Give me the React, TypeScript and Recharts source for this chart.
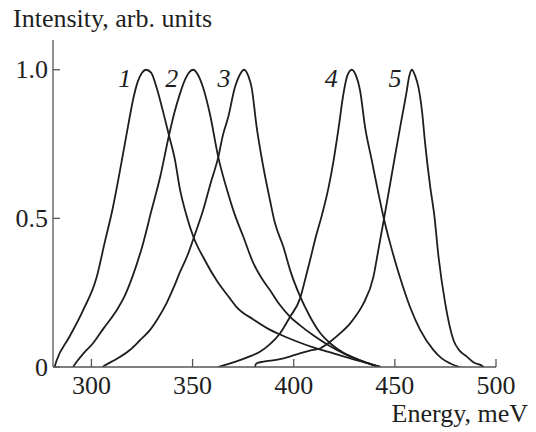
import React from "react";
import { LineChart, Line, XAxis, YAxis, ReferenceDot } from "recharts";

// Photoluminescence spectra, normalised intensity vs photon energy (meV)
const curve1 = [
  [281.8, 0], [282.7, 0.02], [289, 0.1], [295.8, 0.19], [302.5, 0.3], [306.6, 0.42],
  [310.4, 0.53], [314.9, 0.69], [318.1, 0.81], [320.6, 0.9], [322.9, 0.96], [325, 0.99],
  [327, 1.0], [329.5, 0.99], [332.2, 0.94], [335, 0.87], [338.3, 0.78], [341.2, 0.7],
  [343.7, 0.6], [347, 0.51], [350.3, 0.44], [356, 0.36], [362, 0.29], [368, 0.235],
  [372, 0.2], [380, 0.16], [387, 0.13], [393, 0.11], [400, 0.09], [410, 0.065],
  [420, 0.045], [430, 0.025], [437, 0.012], [443, 0],
];

const curve2 = [
  [290.9, 0], [293, 0.02], [296, 0.045], [300.8, 0.08], [306, 0.13], [312.4, 0.19],
  [316.5, 0.24], [320.6, 0.31], [325.5, 0.415], [329.7, 0.527], [334, 0.64], [338.3, 0.778],
  [341, 0.855], [343.7, 0.918], [346.5, 0.97], [348.5, 0.993], [350.3, 1.0], [352.5, 0.985],
  [355.2, 0.94], [358.6, 0.85], [362.7, 0.706], [367.6, 0.583], [371, 0.51], [375, 0.44],
  [380, 0.35], [384, 0.3], [388.3, 0.258], [393, 0.21], [398.2, 0.169], [403, 0.141],
  [410, 0.105], [418, 0.07], [425, 0.045], [432, 0.025], [438, 0.01], [443, 0],
];

const curve3 = [
  [305.5, 0], [307, 0.007], [312, 0.025], [319, 0.057], [324, 0.09], [328.9, 0.124],
  [333, 0.165], [337.1, 0.214], [340.5, 0.265], [343.7, 0.318], [347.5, 0.376], [351.1, 0.445],
  [355.2, 0.527], [359, 0.62], [362.7, 0.706], [365, 0.78], [367.6, 0.84], [370.9, 0.94],
  [373.5, 0.985], [375.5, 1.0], [377.5, 0.98], [379.2, 0.94], [381.7, 0.806], [385, 0.672],
  [388.3, 0.56], [390.5, 0.49], [394.9, 0.404], [398.5, 0.32], [403, 0.24], [408, 0.17],
  [413, 0.115], [418, 0.08], [424, 0.05], [430, 0.03], [436, 0.014], [442.7, 0],
];

const curve4 = [
  [362.6, 0], [366, 0.007], [372, 0.02], [378, 0.035], [383.3, 0.051], [388, 0.075],
  [393.2, 0.113], [398.2, 0.169], [403.1, 0.23], [405.5, 0.29], [408.1, 0.36], [411, 0.44],
  [413.9, 0.51], [417.1, 0.6], [419.6, 0.69], [422.1, 0.8], [424.6, 0.92], [426.5, 0.98],
  [428.7, 1.0], [430.8, 0.98], [432.8, 0.93], [435.3, 0.806], [438.6, 0.695], [441.9, 0.583],
  [444.4, 0.504], [447.7, 0.415], [452.6, 0.3], [457.6, 0.2], [462.5, 0.125], [469.1, 0.057],
  [473, 0.03], [477.4, 0.012], [482, 0],
];

const curve5 = [
  [380.8, 0], [381.5, 0.012], [385, 0.018], [392, 0.025], [398, 0.035], [403, 0.046],
  [408, 0.055], [413.2, 0.063], [416, 0.075], [418, 0.085], [422.9, 0.113], [427.9, 0.147],
  [431, 0.175], [434.5, 0.214], [439.4, 0.303], [442, 0.4], [444.4, 0.49], [447, 0.59],
  [449.3, 0.68], [452.6, 0.806], [455.9, 0.93], [457, 0.975], [458.4, 1.0], [460, 0.98],
  [461.7, 0.94], [463.4, 0.862], [465, 0.75], [467.5, 0.605], [469.5, 0.51], [471.6, 0.37],
  [474.9, 0.214], [479, 0.09], [482, 0.055], [485.6, 0.035], [489, 0.015], [492.2, 0.007],
  [494, 0],
];

const spectra = [curve1, curve2, curve3, curve4, curve5];
const curveNames = ["1", "2", "3", "4", "5"];
// energy at which each curve number is written, just left of its peak
const nameEnergies = [316.5, 339.7, 365.5, 418.5, 450.1];
const nameLevel = 0.973;

const xTicks = [300, 350, 400, 450, 500];
const yTicks = [0, 0.5, 1.0];
const yTickLabels = ["0", "0.5", "1.0"];

const FONT = "Liberation Serif";
const INK = "#1e1e1e";
const AXIS = "#555";
const TICK_FONT = 26;
const TITLE_FONT = 26;

const toPoints = (rows: number[][]) => rows.map(([x, y]) => ({ x, y }));

const Y_MARGIN = 5;
const textStyle = { fontFamily: FONT };

function YTick(props: any) {
  const { x, y, index } = props;
  const axisX = x + Y_MARGIN;
  return (
    <g>
      <line x1={axisX} y1={y} x2={axisX + 7} y2={y} stroke={AXIS} strokeWidth={1.3} />
      <text x={x} y={y} textAnchor="end" dominantBaseline="central" style={textStyle} fontSize={TICK_FONT} fill={INK}>
        {yTickLabels[index]}
      </text>
    </g>
  );
}

function XTick(props: any) {
  const { x, y, payload } = props;
  return (
    <g>
      <line x1={x} y1={y} x2={x} y2={y - 8} stroke={AXIS} strokeWidth={1.3} />
      <text x={x} y={y + 18} textAnchor="middle" dominantBaseline="central" style={textStyle} fontSize={TICK_FONT} fill={INK}>
        {payload.value}
      </text>
    </g>
  );
}

export default function App() {
  return (
    <div style={{ position: "absolute", left: 0, top: 0, background: "#fff", fontFamily: FONT }}>
      <LineChart width={536} height={432} margin={{ top: 40, right: 40, bottom: 35, left: 8 }}>
        <XAxis
          dataKey="x"
          type="number"
          domain={[281, 500]}
          ticks={xTicks}
          allowDataOverflow
          height={30}
          tickSize={0}
          tickMargin={0}
          tickLine={false}
          tick={<XTick />}
          axisLine={{ stroke: AXIS, strokeWidth: 1.3 }}
          label={{
            content: (p: any) => (
              <text
                x={p.viewBox.x + p.viewBox.width + 32}
                y={p.viewBox.y + 55}
                textAnchor="end"
                style={textStyle}
                fontSize={TITLE_FONT}
                fill={INK}
              >
                Energy, meV
              </text>
            ),
          }}
        />
        <YAxis
          dataKey="y"
          type="number"
          domain={[0, 1.1]}
          ticks={yTicks}
          allowDataOverflow
          width={45}
          tickSize={0}
          tickMargin={Y_MARGIN}
          tickLine={false}
          tick={<YTick />}
          axisLine={{ stroke: AXIS, strokeWidth: 1.3 }}
          label={{
            content: (p: any) => (
              <text x={p.viewBox.x + 5} y={p.viewBox.y - 13} textAnchor="start" style={textStyle} fontSize={TITLE_FONT} fill={INK}>
                Intensity, arb. units
              </text>
            ),
          }}
        />
        {spectra.map((rows, i) => (
          <Line
            key={curveNames[i]}
            data={toPoints(rows)}
            dataKey="y"
            type="monotone"
            stroke={INK}
            strokeWidth={1.8}
            dot={false}
            activeDot={false}
            isAnimationActive={false}
          />
        ))}
        {curveNames.map((name, i) => (
          <ReferenceDot
            key={"n" + name}
            x={nameEnergies[i]}
            y={nameLevel}
            r={0}
            fill="none"
            stroke="none"
            label={{
              value: name,
              position: "center",
              fontFamily: FONT,
              fontStyle: "italic",
              fontSize: 26,
              fill: INK,
            }}
          />
        ))}
      </LineChart>
    </div>
  );
}
